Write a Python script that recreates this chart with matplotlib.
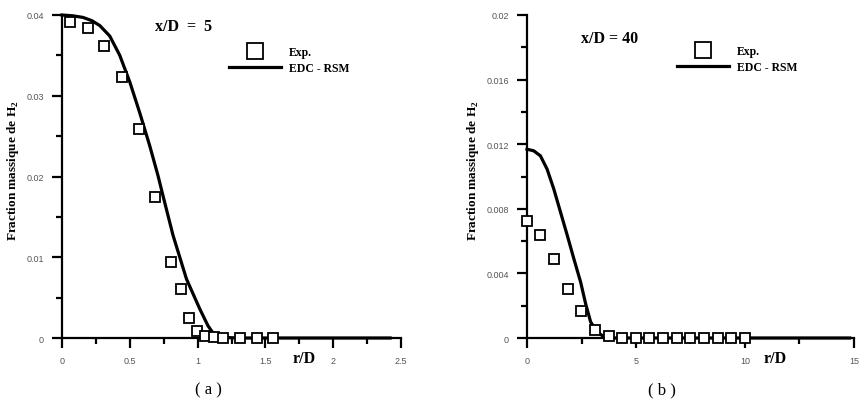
import matplotlib
matplotlib.use("Agg")
import matplotlib.pyplot as plt
from matplotlib.ticker import FixedLocator, MultipleLocator

# ---- data: panel (a), x/D = 5
exp_a_r = [0.06, 0.19, 0.31, 0.44, 0.568, 0.689, 0.807, 0.881, 0.937, 0.997,
           1.058, 1.122, 1.19, 1.31, 1.437, 1.558]
exp_a_y = [0.0391, 0.0384, 0.0362, 0.0323, 0.0259, 0.0175, 0.0094, 0.0061, 0.00247,
           0.00082, 0.0002, 0.0001, 0.0, 0.0, 0.0, 0.0]
rsm_a_r = [0.0, 0.08, 0.155, 0.22, 0.278, 0.352, 0.426, 0.50, 0.573, 0.647, 0.708, 0.745,
           0.819, 0.918, 1.016, 1.077, 1.127, 1.164, 1.3, 2.42]
rsm_a_y = [0.0400, 0.0399, 0.0397, 0.0393, 0.0387, 0.0374, 0.0350, 0.0317, 0.0279, 0.0238,
           0.0201, 0.0176, 0.0127, 0.0073, 0.0036, 0.0015, 0.0003, 0.0001, 0.0, 0.0]

# ---- data: panel (b), x/D = 40
exp_b_r = [0.0, 0.61, 1.24, 1.86, 2.49, 3.11, 3.75, 4.38, 5.0, 5.6, 6.24, 6.87,
           7.48, 8.12, 8.74, 9.37, 9.98]
exp_b_y = [0.00727, 0.0064, 0.0049, 0.00305, 0.00165, 0.0005, 0.0001, 0.0, 0.0, 0.0,
           0.0, 0.0, 0.0, 0.0, 0.0, 0.0, 0.0]
rsm_b_r = [0.0, 0.31, 0.615, 0.92, 1.23, 1.54, 1.85, 2.15, 2.46, 2.69, 2.92, 3.23,
           3.54, 3.85, 14.8]
rsm_b_y = [0.01169, 0.01159, 0.01128, 0.01046, 0.00922, 0.00778, 0.00634, 0.0049,
           0.00346, 0.00212, 0.00099, 0.00037, 0.00006, 0.0, 0.0]

# ---- ticks
xt_a = [0, 0.5, 1, 1.5, 2, 2.5]
xt_a_lab = ["0", "0.5", "1", "1.5", "2", "2.5"]
yt_a = [0, 0.01, 0.02, 0.03, 0.04]
yt_a_lab = ["0", "0.01", "0.02", "0.03", "0.04"]
xt_b = [0, 5, 10, 15]
xt_b_lab = ["0", "5", "10", "15"]
yt_b = [0, 0.004, 0.008, 0.012, 0.016, 0.02]
yt_b_lab = ["0", "0.004", "0.008", "0.012", "0.016", "0.02"]

serif = "Liberation Serif"
sans = "Liberation Sans"

plt.rcParams["mathtext.fontset"] = "custom"
plt.rcParams["mathtext.bf"] = "Liberation Serif:bold"
plt.rcParams["mathtext.rm"] = "Liberation Serif:bold"

fig = plt.figure(figsize=(8.6, 4.02), dpi=100)
ax_a = fig.add_axes([0.0721, 0.1567, 0.3942, 0.8035])
ax_b = fig.add_axes([0.6128, 0.1567, 0.3802, 0.8035])


def style_axes(ax, xt, xlab, yt, ylab, xminor, yminor, xlim, ylim):
    ax.set_xlim(*xlim)
    ax.set_ylim(*ylim)
    for s in ("top", "right"):
        ax.spines[s].set_visible(False)
    for s in ("left", "bottom"):
        ax.spines[s].set_linewidth(1.6)
    ax.xaxis.set_major_locator(FixedLocator(xt))
    ax.set_xticklabels(xlab)
    ax.yaxis.set_major_locator(FixedLocator(yt))
    ax.set_yticklabels(ylab)
    ax.xaxis.set_minor_locator(MultipleLocator(xminor))
    ax.yaxis.set_minor_locator(MultipleLocator(yminor))
    ax.tick_params(which="major", direction="out", length=7, width=1.6,
                   labelsize=6.5, labelcolor="#555555", pad=6)
    ax.tick_params(which="minor", direction="out", length=4.5, width=1.6)
    for lab in ax.get_xticklabels() + ax.get_yticklabels():
        lab.set_fontfamily(sans)


def draw_panel(ax, er, ey, cr, cy, title_txt, title_xy, leg_xy, ylab_x, rd_x):
    ax.plot(cr, cy, color="black", lw=2.3, label="EDC - RSM", clip_on=False, zorder=3)
    ax.plot(er, ey, ls="none", marker="s", ms=7.5, mfc="white", mec="black",
            mew=1.3, label="Exp.", clip_on=False, zorder=4)
    h, l = ax.get_legend_handles_labels()
    ax.legend(h[::-1], l[::-1], loc="upper left", bbox_to_anchor=leg_xy,
              frameon=False, handlelength=4.4, handletextpad=0.7, borderpad=0,
              borderaxespad=0, labelspacing=0.35, markerscale=1.6,
              prop={"family": serif, "weight": "bold", "size": 8.5})
    ax.text(title_xy[0], title_xy[1], title_txt, transform=ax.transAxes,
            family=serif, weight="bold", size=11.5, ha="center", va="center")
    ax.set_ylabel("Fraction massique de H$_\\mathbf{2}$", family=serif,
                  weight="bold", size=9.5)
    ax.yaxis.set_label_coords(ylab_x, 0.52)
    ax.text(rd_x, -0.062, "r/D", transform=ax.transAxes, family=serif,
            weight="bold", size=11.5, ha="center", va="center")


style_axes(ax_a, xt_a, xt_a_lab, yt_a, yt_a_lab, 0.25, 0.005, (0, 2.5), (0, 0.04))
style_axes(ax_b, xt_b, xt_b_lab, yt_b, yt_b_lab, 2.5, 0.002, (0, 15), (0, 0.02))

draw_panel(ax_a, exp_a_r, exp_a_y, rsm_a_r, rsm_a_y, "x/D  =  5", (0.36, 0.966),
           (0.493, 0.903), -0.121, 0.714)
draw_panel(ax_b, exp_b_r, exp_b_y, rsm_b_r, rsm_b_y, "x/D = 40", (0.254, 0.929),
           (0.459, 0.908), -0.141, 0.758)

fig.text(0.242, 0.030, "( a )", family=serif, size=12, ha="center", va="center")
fig.text(0.770, 0.030, "( b )", family=serif, size=12, ha="center", va="center")

fig.savefig("out.png", dpi=100)
